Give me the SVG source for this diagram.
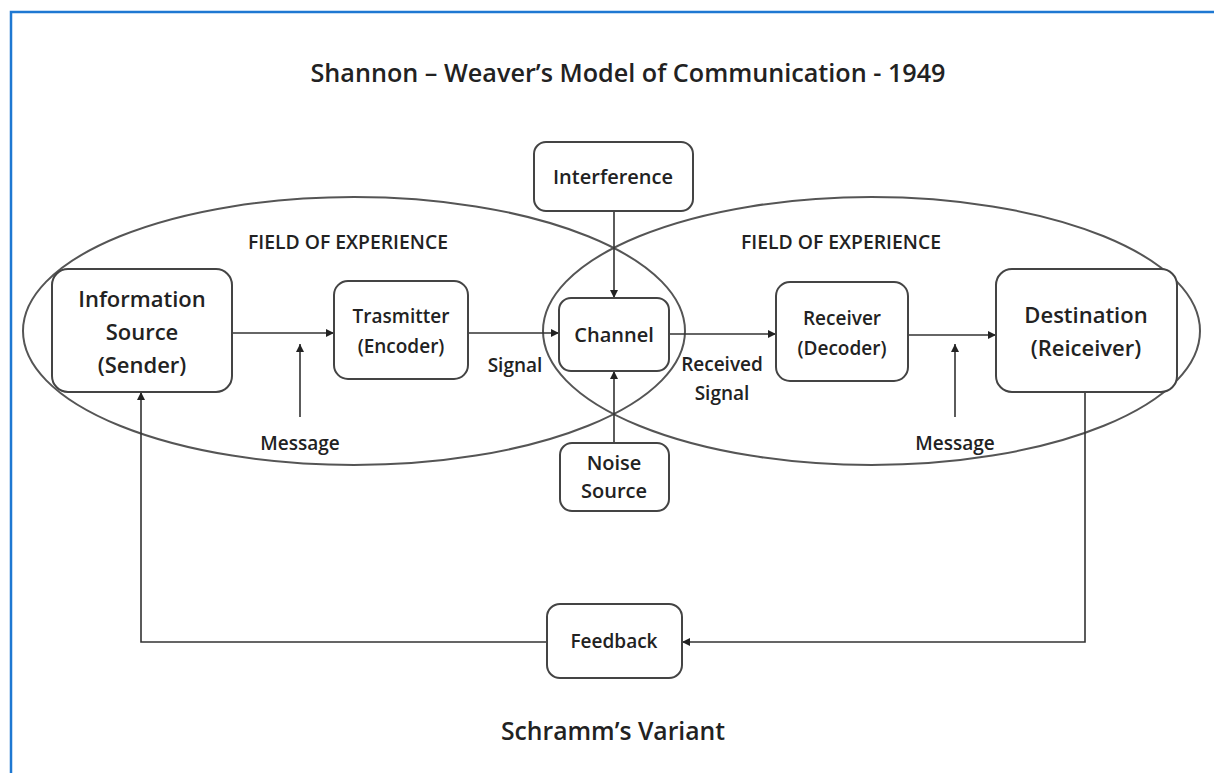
<svg xmlns="http://www.w3.org/2000/svg" width="1214" height="773" viewBox="0 0 1214 773">
<style>
.t{font-family:"Open Sans","Noto Sans","Liberation Sans",sans-serif;font-weight:600;fill:#222;text-anchor:middle}
.box{fill:#fff;stroke:#444;stroke-width:2}
.ell{fill:none;stroke:#555;stroke-width:2}
.ln{fill:none;stroke:#333;stroke-width:1.6}
.arr{marker-end:url(#ah)}
</style>
<defs>
<marker id="ah" viewBox="0 0 10 10" refX="10" refY="5" markerWidth="10" markerHeight="8" markerUnits="userSpaceOnUse" orient="auto">
<path d="M0,0 L10,5 L0,10 z" fill="#222"/>
</marker>
</defs>
<rect x="0" y="0" width="1214" height="773" fill="#fff"/>
<path d="M11,773 L11,12 L1214,12" fill="none" stroke="#1e78d2" stroke-width="2.5"/>
<text class="t" x="628" y="82" font-size="26" textLength="635" lengthAdjust="spacingAndGlyphs">Shannon – Weaver’s  Model of Communication - 1949</text>
<g id="fields">
<ellipse class="ell" cx="354" cy="331" rx="331" ry="134"/>
<ellipse class="ell" cx="871.5" cy="331" rx="328.5" ry="134"/>
<text class="t" x="348" y="249" font-size="19" textLength="200" lengthAdjust="spacingAndGlyphs">FIELD OF EXPERIENCE</text>
<text class="t" x="841" y="249" font-size="19" textLength="200" lengthAdjust="spacingAndGlyphs">FIELD OF EXPERIENCE</text>
</g>
<g id="connectors">
<line class="ln arr" x1="232" y1="333" x2="334" y2="333"/>
<line class="ln arr" x1="300" y1="417" x2="300" y2="344"/>
<line class="ln arr" x1="468" y1="333" x2="559" y2="333"/>
<line class="ln arr" x1="669" y1="334" x2="776" y2="334"/>
<line class="ln arr" x1="908" y1="335" x2="996" y2="335"/>
<line class="ln arr" x1="955" y1="417" x2="955" y2="344"/>
<line class="ln arr" x1="614" y1="211" x2="614" y2="298"/>
<line class="ln arr" x1="614" y1="443" x2="614" y2="371"/>
<polyline class="ln arr" points="1085,392 1085,642 682,642"/>
<polyline class="ln arr" points="547,642 141,642 141,392"/>
<text class="t" x="300" y="450" font-size="19">Message</text>
<text class="t" x="955" y="450" font-size="19">Message</text>
<text class="t" x="515" y="372" font-size="19">Signal</text>
<text class="t" x="722" y="371" font-size="19">Received</text>
<text class="t" x="722" y="400" font-size="19">Signal</text>
</g>
<g id="info-source">
<rect class="box" x="52" y="269" width="180" height="123" rx="16"/>
<text class="t" x="142" y="307" font-size="22">Information</text>
<text class="t" x="142" y="340" font-size="22">Source</text>
<text class="t" x="142" y="373" font-size="22">(Sender)</text>
</g>
<g id="transmitter">
<rect class="box" x="334" y="281" width="134" height="98" rx="14"/>
<text class="t" x="401" y="323" font-size="19">Trasmitter</text>
<text class="t" x="401" y="353" font-size="19">(Encoder)</text>
</g>
<g id="interference">
<rect class="box" x="534" y="142" width="159" height="69" rx="12"/>
<text class="t" x="613" y="184" font-size="20">Interference</text>
</g>
<g id="channel">
<rect class="box" x="559" y="298" width="110" height="73" rx="12"/>
<text class="t" x="614" y="342" font-size="20">Channel</text>
</g>
<g id="noise-source">
<rect class="box" x="560" y="443" width="109" height="68" rx="12"/>
<text class="t" x="614" y="470" font-size="20">Noise</text>
<text class="t" x="614" y="498" font-size="20">Source</text>
</g>
<g id="receiver">
<rect class="box" x="776" y="282" width="132" height="99" rx="14"/>
<text class="t" x="842" y="325" font-size="19">Receiver</text>
<text class="t" x="842" y="355" font-size="19">(Decoder)</text>
</g>
<g id="destination">
<rect class="box" x="996" y="269" width="181" height="123" rx="16"/>
<text class="t" x="1086" y="323" font-size="22">Destination</text>
<text class="t" x="1086" y="356" font-size="22">(Reiceiver)</text>
</g>
<g id="feedback">
<rect class="box" x="547" y="604" width="135" height="74" rx="13"/>
<text class="t" x="614" y="648" font-size="19">Feedback</text>
</g>
<text class="t" x="613" y="740" font-size="26" textLength="224" lengthAdjust="spacingAndGlyphs">Schramm’s Variant</text>
</svg>
